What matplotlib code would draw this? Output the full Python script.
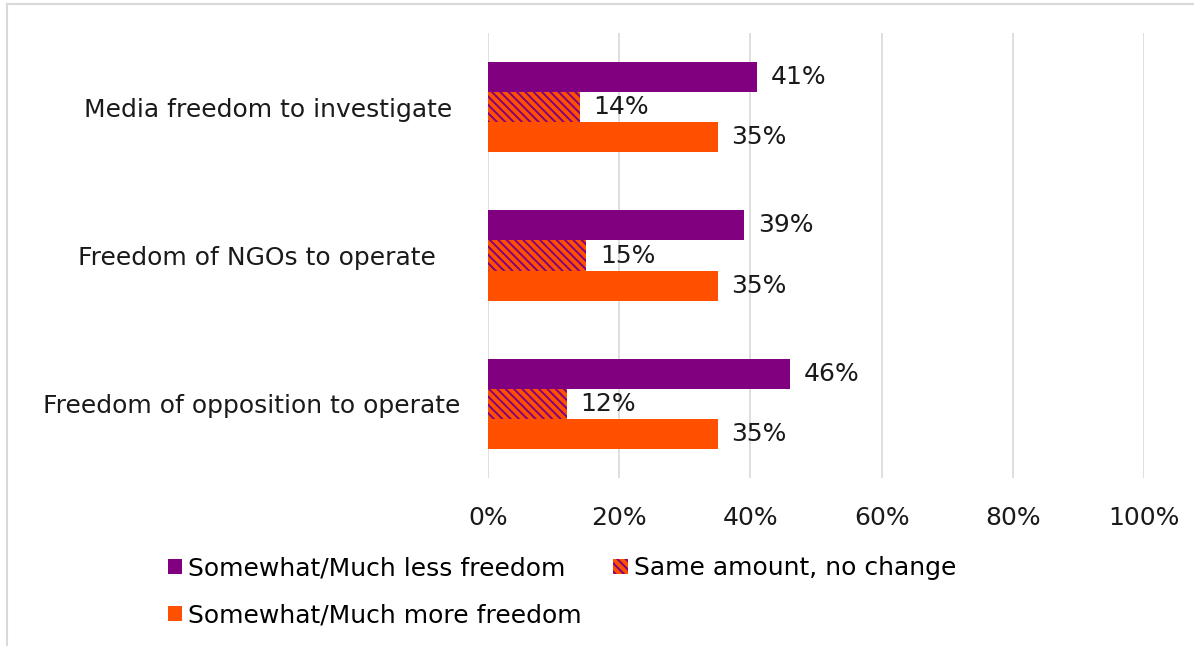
import matplotlib
matplotlib.use("Agg")
import matplotlib.pyplot as plt
from matplotlib.patches import Patch
from matplotlib.lines import Line2D
import numpy as np

categories = ["Media freedom to investigate ", "Freedom of NGOs to operate   ", "Freedom of opposition to operate"]
series_names = ["Somewhat/Much less freedom", "Same amount, no change", "Somewhat/Much more freedom"]
less_freedom = [41, 39, 46]
same_amount = [14, 15, 12]
more_freedom = [35, 35, 35]
xticks = [0, 20, 40, 60, 80, 100]
xtick_labels = ["0%", "20%", "40%", "60%", "80%", "100%"]

PURPLE = "#800080"
ORANGE = "#FF5000"
GRID = "#D9D9D9"
plt.rcParams['font.family'] = ['DejaVu Sans']
plt.rcParams['hatch.linewidth'] = 1.4
plt.rcParams['hatch.color'] = PURPLE

fig = plt.figure(figsize=(11.94, 6.46), dpi=100)
ax = fig.add_axes([488/1194, 1-478/646, (1144-488)/1194, (478-33)/646])

y = np.arange(len(categories))
h = 0.203
ax.barh(y - h, less_freedom, height=h, color=PURPLE, zorder=3)
ax.barh(y, same_amount, height=h, color=ORANGE, edgecolor=PURPLE, linewidth=0, hatch='\\\\\\\\', zorder=3)
ax.barh(y + h, more_freedom, height=h, color=ORANGE, zorder=3)

fs = 18
for vals, off in [(less_freedom, -h), (same_amount, 0), (more_freedom, h)]:
    for yi, v in zip(y, vals):
        ax.annotate(f"{v}%", (v, yi + off), xytext=(10, 0), textcoords='offset points',
                    va='center', ha='left', fontsize=fs, color='#1a1a1a')

ax.set_xlim(0, 100)
ax.set_ylim(2.5, -0.5)
ax.set_xticks(xticks)
ax.set_xticklabels(xtick_labels, fontsize=fs, color='#1a1a1a')
ax.set_yticks(y)
ax.set_yticklabels(categories, fontsize=fs, color='#1a1a1a')
ax.tick_params(axis='both', length=0)
ax.tick_params(axis='x', pad=20)
ax.tick_params(axis='y', pad=20)
for s in ax.spines.values():
    s.set_visible(False)
ax.grid(axis='x', color=GRID, linewidth=1.2, zorder=0)

hp = {
    0: Patch(facecolor=PURPLE, edgecolor='none'),
    1: Patch(facecolor=ORANGE, edgecolor=PURPLE, hatch='\\\\\\\\', linewidth=0),
    2: Patch(facecolor=ORANGE, edgecolor='none'),
}
order = [0, 2, 1]
leg = fig.legend([hp[i] for i in order], [series_names[i] for i in order], loc='upper left',
                 bbox_to_anchor=(155/1194, 1-544/646),
                 ncol=2, frameon=False, fontsize=fs, handlelength=0.58, handleheight=0.58,
                 handletextpad=0.26, columnspacing=1.25, labelspacing=0.92, borderpad=0)

fig.add_artist(Line2D([7/1194, 7/1194], [0, 1-4/646], color=GRID, linewidth=1.5))
fig.add_artist(Line2D([7/1194, 1], [1-4/646, 1-4/646], color=GRID, linewidth=1.5))

fig.savefig("out.png", dpi=100)
